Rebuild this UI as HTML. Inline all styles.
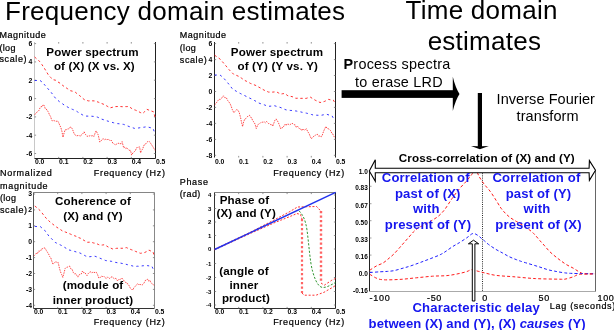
<!DOCTYPE html>
<html><head><meta charset="utf-8"><style>
html,body{margin:0;padding:0;background:#fff;width:614px;height:330px;overflow:hidden}
svg{display:block;will-change:transform}
text{font-family:"Liberation Sans",sans-serif}
</style></head><body>
<svg width="614" height="330" viewBox="0 0 614 330">
<rect width="614" height="330" fill="#fff"/>
<text x="5.0" y="20" font-size="26" font-weight="normal" font-style="normal" fill="#000" text-anchor="start" letter-spacing="0.25" >Frequency domain estimates</text>
<text x="481.6" y="18.6" font-size="26" font-weight="normal" font-style="normal" fill="#000" text-anchor="middle" letter-spacing="0.25" >Time domain</text>
<text x="484.4" y="50.1" font-size="26" font-weight="normal" font-style="normal" fill="#000" text-anchor="middle" letter-spacing="0.25" >estimates</text>
<line x1="34.5" y1="42" x2="34.5" y2="158.5" stroke="#c8c8c8" stroke-width="1"/>
<line x1="34.5" y1="158.5" x2="155.5" y2="158.5" stroke="#222" stroke-width="1"/>
<line x1="155.5" y1="42" x2="155.5" y2="158.5" stroke="#222" stroke-width="1"/>
<line x1="58.7" y1="42" x2="58.7" y2="43.6" stroke="#777" stroke-width="0.8"/>
<line x1="58.7" y1="158.5" x2="58.7" y2="156.9" stroke="#777" stroke-width="0.8"/>
<line x1="82.9" y1="42" x2="82.9" y2="43.6" stroke="#777" stroke-width="0.8"/>
<line x1="82.9" y1="158.5" x2="82.9" y2="156.9" stroke="#777" stroke-width="0.8"/>
<line x1="107.1" y1="42" x2="107.1" y2="43.6" stroke="#777" stroke-width="0.8"/>
<line x1="107.1" y1="158.5" x2="107.1" y2="156.9" stroke="#777" stroke-width="0.8"/>
<line x1="131.3" y1="42" x2="131.3" y2="43.6" stroke="#777" stroke-width="0.8"/>
<line x1="131.3" y1="158.5" x2="131.3" y2="156.9" stroke="#777" stroke-width="0.8"/>
<line x1="34.5" y1="43.6" x2="36.1" y2="43.6" stroke="#777" stroke-width="0.8"/>
<line x1="155.5" y1="43.6" x2="153.9" y2="43.6" stroke="#777" stroke-width="0.8"/>
<line x1="34.5" y1="61.9" x2="36.1" y2="61.9" stroke="#777" stroke-width="0.8"/>
<line x1="155.5" y1="61.9" x2="153.9" y2="61.9" stroke="#777" stroke-width="0.8"/>
<line x1="34.5" y1="80.2" x2="36.1" y2="80.2" stroke="#777" stroke-width="0.8"/>
<line x1="155.5" y1="80.2" x2="153.9" y2="80.2" stroke="#777" stroke-width="0.8"/>
<line x1="34.5" y1="98.6" x2="36.1" y2="98.6" stroke="#777" stroke-width="0.8"/>
<line x1="155.5" y1="98.6" x2="153.9" y2="98.6" stroke="#777" stroke-width="0.8"/>
<line x1="34.5" y1="116.9" x2="36.1" y2="116.9" stroke="#777" stroke-width="0.8"/>
<line x1="155.5" y1="116.9" x2="153.9" y2="116.9" stroke="#777" stroke-width="0.8"/>
<line x1="34.5" y1="135.2" x2="36.1" y2="135.2" stroke="#777" stroke-width="0.8"/>
<line x1="155.5" y1="135.2" x2="153.9" y2="135.2" stroke="#777" stroke-width="0.8"/>
<line x1="34.5" y1="153.5" x2="36.1" y2="153.5" stroke="#777" stroke-width="0.8"/>
<line x1="155.5" y1="153.5" x2="153.9" y2="153.5" stroke="#777" stroke-width="0.8"/>
<text x="-0.5" y="37.5" font-size="9" font-weight="normal" font-style="normal" fill="#000" text-anchor="start" letter-spacing="0.52" stroke="#000" stroke-width="0.22">Magnitude</text>
<text x="-0.5" y="51.2" font-size="9" font-weight="normal" font-style="normal" fill="#000" text-anchor="start" letter-spacing="0.3" stroke="#000" stroke-width="0.22">(log</text>
<text x="-0.5" y="62.2" font-size="9" font-weight="normal" font-style="normal" fill="#000" text-anchor="start" letter-spacing="0.6" stroke="#000" stroke-width="0.22">scale)</text>
<text x="32.3" y="46.0" font-size="6.8" font-weight="bold" font-style="normal" fill="#000" text-anchor="end" letter-spacing="0.0" >6</text>
<text x="32.3" y="64.3" font-size="6.8" font-weight="bold" font-style="normal" fill="#000" text-anchor="end" letter-spacing="0.0" >4</text>
<text x="32.3" y="82.60000000000001" font-size="6.8" font-weight="bold" font-style="normal" fill="#000" text-anchor="end" letter-spacing="0.0" >2</text>
<text x="32.3" y="100.9" font-size="6.8" font-weight="bold" font-style="normal" fill="#000" text-anchor="end" letter-spacing="0.0" >0</text>
<text x="32.3" y="119.2" font-size="6.8" font-weight="bold" font-style="normal" fill="#000" text-anchor="end" letter-spacing="0.0" >-2</text>
<text x="32.3" y="137.5" font-size="6.8" font-weight="bold" font-style="normal" fill="#000" text-anchor="end" letter-spacing="0.0" >-4</text>
<text x="32.3" y="155.9" font-size="6.8" font-weight="bold" font-style="normal" fill="#000" text-anchor="end" letter-spacing="0.0" >-6</text>
<text x="34.9" y="163.8" font-size="6.8" font-weight="bold" font-style="normal" fill="#000" text-anchor="start" letter-spacing="0.0" >0.0</text>
<text x="59.1" y="163.8" font-size="6.8" font-weight="bold" font-style="normal" fill="#000" text-anchor="start" letter-spacing="0.0" >0.1</text>
<text x="83.30000000000001" y="163.8" font-size="6.8" font-weight="bold" font-style="normal" fill="#000" text-anchor="start" letter-spacing="0.0" >0.2</text>
<text x="107.5" y="163.8" font-size="6.8" font-weight="bold" font-style="normal" fill="#000" text-anchor="start" letter-spacing="0.0" >0.3</text>
<text x="131.70000000000002" y="163.8" font-size="6.8" font-weight="bold" font-style="normal" fill="#000" text-anchor="start" letter-spacing="0.0" >0.4</text>
<text x="155.9" y="163.8" font-size="6.8" font-weight="bold" font-style="normal" fill="#000" text-anchor="start" letter-spacing="0.0" >0.5</text>
<text x="165.6" y="175.5" font-size="9" font-weight="normal" font-style="normal" fill="#000" text-anchor="end" letter-spacing="0.7" stroke="#000" stroke-width="0.22">Frequency (Hz)</text>
<text x="92.5" y="56.1" font-size="11.6" font-weight="bold" font-style="normal" fill="#000" text-anchor="middle" letter-spacing="0.15" >Power spectrum</text>
<text x="94.4" y="69.7" font-size="11.6" font-weight="bold" font-style="normal" fill="#000" text-anchor="middle" letter-spacing="0.15" >of (X) (X vs. X)</text>
<polyline points="34.7,57.0 37.2,59.4 39.8,61.6 42.0,64.7 44.2,68.0 46.4,71.6 48.6,75.3 50.8,77.6 52.9,79.6 55.8,80.3 58.0,82.0 60.2,83.3 62.4,85.2 64.6,86.8 67.5,88.7 70.4,90.7 72.9,91.3 75.4,92.3 77.6,94.1 79.7,95.7 81.9,97.5 84.1,99.5 86.3,100.3 88.5,100.9 91.4,100.8 94.3,100.9 96.5,101.5 98.7,102.3 101.6,103.5 104.5,104.6 107.2,106.2 110.0,107.9 112.8,107.2 115.5,106.6 117.8,106.5 120.0,106.5 122.3,106.7 124.6,106.6 126.8,106.6 129.1,106.5 131.1,108.1 133.2,109.4 135.6,110.2 138.0,111.3 140.3,112.5 142.7,113.5 144.8,111.5 146.8,109.3 148.9,110.1 150.9,110.8 153.7,111.9 154.9,116.8" fill="none" stroke="#ff1a1a" stroke-width="0.9" stroke-dasharray="2.4,2.6" />
<polyline points="34.7,80.5 37.2,80.5 39.8,80.3 42.7,82.5 44.9,85.2 47.1,87.7 49.3,90.3 51.5,92.8 53.6,95.7 55.8,98.6 59.4,101.6 62.0,103.4 64.5,105.3 67.0,106.7 69.6,108.2 72.5,109.4 75.4,110.5 77.6,111.9 79.7,113.3 82.2,114.7 84.8,116.1 87.0,116.1 89.2,116.2 91.4,116.2 94.3,116.5 97.2,117.0 99.4,118.0 101.6,119.1 103.8,119.8 105.9,120.5 108.7,121.4 111.4,122.2 113.4,122.7 115.5,123.3 117.5,123.6 119.5,123.8 121.6,124.1 123.6,124.4 125.7,125.1 127.7,126.0 129.8,126.8 132.2,127.6 134.6,128.4 136.9,128.2 139.1,127.9 141.4,127.4 144.1,127.2 146.8,126.7 148.9,127.3 150.9,127.8 153.0,128.4 154.9,133.2" fill="none" stroke="#2020ff" stroke-width="0.9" stroke-dasharray="2.2,3.2" />
<polyline points="34.6,114.5 35.7,113.8 36.8,112.2 37.9,111.5 39.0,110.3 40.0,107.9 41.1,106.5 42.2,106.9 43.3,104.5 44.3,105.8 45.3,108.7 46.3,109.0 47.3,111.0 48.3,111.7 49.4,114.7 50.6,116.5 51.7,120.3 52.8,120.9 53.9,120.4 55.0,121.1 56.2,121.4 57.4,120.7 58.6,122.5 59.7,125.1 60.8,127.4 61.9,131.3 63.0,137.3 64.1,132.9 65.2,129.7 66.3,129.7 67.4,129.0 68.5,129.0 69.6,127.6 71.0,127.0 72.5,129.2 73.9,133.1 75.3,135.2 76.8,135.8 77.9,135.5 79.0,135.3 80.1,136.4 81.2,135.0 82.7,133.9 84.1,131.8 85.5,134.4 87.0,136.4 88.1,135.9 89.2,136.0 90.3,135.6 91.4,135.9 92.7,135.7 94.0,136.5 95.0,133.4 96.1,130.8 97.2,133.0 98.2,134.9 99.8,142.1 101.2,140.7 102.5,139.0 103.6,138.9 104.6,139.7 105.7,139.2 106.8,140.0 107.8,138.9 108.8,139.7 109.9,140.5 111.5,140.5 112.8,143.2 114.1,143.8 115.3,145.0 116.6,144.1 117.8,143.4 118.9,143.3 119.9,143.8 121.0,143.6 122.1,141.6 123.7,148.0 124.8,147.0 125.8,148.5 126.9,147.8 127.9,149.1 129.2,150.3 130.5,150.4 131.6,155.1 132.9,152.9 134.3,151.7 135.4,150.8 136.4,147.9 137.5,147.5 138.5,147.2 139.6,146.9 140.6,152.9 141.7,150.1 142.7,149.1 143.8,145.3 145.1,144.8 146.4,142.8 147.8,141.5 149.1,141.3 150.4,143.0 151.7,144.9 153.3,147.4 155.0,150.4" fill="none" stroke="#ff1a1a" stroke-width="0.8" stroke-dasharray="1.5,1.0" />
<line x1="214.5" y1="42" x2="214.5" y2="157.5" stroke="#222" stroke-width="1"/>
<line x1="335.5" y1="42" x2="335.5" y2="157.5" stroke="#222" stroke-width="1"/>
<line x1="238.7" y1="42" x2="238.7" y2="43.6" stroke="#777" stroke-width="0.8"/>
<line x1="238.7" y1="157.5" x2="238.7" y2="155.9" stroke="#777" stroke-width="0.8"/>
<line x1="262.9" y1="42" x2="262.9" y2="43.6" stroke="#777" stroke-width="0.8"/>
<line x1="262.9" y1="157.5" x2="262.9" y2="155.9" stroke="#777" stroke-width="0.8"/>
<line x1="287.1" y1="42" x2="287.1" y2="43.6" stroke="#777" stroke-width="0.8"/>
<line x1="287.1" y1="157.5" x2="287.1" y2="155.9" stroke="#777" stroke-width="0.8"/>
<line x1="311.3" y1="42" x2="311.3" y2="43.6" stroke="#777" stroke-width="0.8"/>
<line x1="311.3" y1="157.5" x2="311.3" y2="155.9" stroke="#777" stroke-width="0.8"/>
<line x1="214.5" y1="43.6" x2="216.1" y2="43.6" stroke="#777" stroke-width="0.8"/>
<line x1="335.5" y1="43.6" x2="333.9" y2="43.6" stroke="#777" stroke-width="0.8"/>
<line x1="214.5" y1="59.6" x2="216.1" y2="59.6" stroke="#777" stroke-width="0.8"/>
<line x1="335.5" y1="59.6" x2="333.9" y2="59.6" stroke="#777" stroke-width="0.8"/>
<line x1="214.5" y1="75.5" x2="216.1" y2="75.5" stroke="#777" stroke-width="0.8"/>
<line x1="335.5" y1="75.5" x2="333.9" y2="75.5" stroke="#777" stroke-width="0.8"/>
<line x1="214.5" y1="91.5" x2="216.1" y2="91.5" stroke="#777" stroke-width="0.8"/>
<line x1="335.5" y1="91.5" x2="333.9" y2="91.5" stroke="#777" stroke-width="0.8"/>
<line x1="214.5" y1="107.4" x2="216.1" y2="107.4" stroke="#777" stroke-width="0.8"/>
<line x1="335.5" y1="107.4" x2="333.9" y2="107.4" stroke="#777" stroke-width="0.8"/>
<line x1="214.5" y1="123.4" x2="216.1" y2="123.4" stroke="#777" stroke-width="0.8"/>
<line x1="335.5" y1="123.4" x2="333.9" y2="123.4" stroke="#777" stroke-width="0.8"/>
<line x1="214.5" y1="139.4" x2="216.1" y2="139.4" stroke="#777" stroke-width="0.8"/>
<line x1="335.5" y1="139.4" x2="333.9" y2="139.4" stroke="#777" stroke-width="0.8"/>
<line x1="214.5" y1="155.3" x2="216.1" y2="155.3" stroke="#777" stroke-width="0.8"/>
<line x1="335.5" y1="155.3" x2="333.9" y2="155.3" stroke="#777" stroke-width="0.8"/>
<text x="179.8" y="37.9" font-size="9" font-weight="normal" font-style="normal" fill="#000" text-anchor="start" letter-spacing="0.52" stroke="#000" stroke-width="0.22">Magnitude</text>
<text x="179.8" y="51.2" font-size="9" font-weight="normal" font-style="normal" fill="#000" text-anchor="start" letter-spacing="0.3" stroke="#000" stroke-width="0.22">(log</text>
<text x="179.8" y="62.6" font-size="9" font-weight="normal" font-style="normal" fill="#000" text-anchor="start" letter-spacing="0.6" stroke="#000" stroke-width="0.22">scale)</text>
<text x="212.3" y="46.0" font-size="6.8" font-weight="bold" font-style="normal" fill="#000" text-anchor="end" letter-spacing="0.0" >6</text>
<text x="212.3" y="61.96" font-size="6.8" font-weight="bold" font-style="normal" fill="#000" text-anchor="end" letter-spacing="0.0" >4</text>
<text x="212.3" y="77.92000000000002" font-size="6.8" font-weight="bold" font-style="normal" fill="#000" text-anchor="end" letter-spacing="0.0" >2</text>
<text x="212.3" y="93.88000000000001" font-size="6.8" font-weight="bold" font-style="normal" fill="#000" text-anchor="end" letter-spacing="0.0" >0</text>
<text x="212.3" y="109.84" font-size="6.8" font-weight="bold" font-style="normal" fill="#000" text-anchor="end" letter-spacing="0.0" >-2</text>
<text x="212.3" y="125.80000000000001" font-size="6.8" font-weight="bold" font-style="normal" fill="#000" text-anchor="end" letter-spacing="0.0" >-4</text>
<text x="212.3" y="141.76000000000002" font-size="6.8" font-weight="bold" font-style="normal" fill="#000" text-anchor="end" letter-spacing="0.0" >-6</text>
<text x="212.3" y="157.72" font-size="6.8" font-weight="bold" font-style="normal" fill="#000" text-anchor="end" letter-spacing="0.0" >-8</text>
<text x="214.9" y="163.8" font-size="6.8" font-weight="bold" font-style="normal" fill="#000" text-anchor="start" letter-spacing="0.0" >0.0</text>
<text x="239.1" y="163.8" font-size="6.8" font-weight="bold" font-style="normal" fill="#000" text-anchor="start" letter-spacing="0.0" >0.1</text>
<text x="263.29999999999995" y="163.8" font-size="6.8" font-weight="bold" font-style="normal" fill="#000" text-anchor="start" letter-spacing="0.0" >0.2</text>
<text x="287.5" y="163.8" font-size="6.8" font-weight="bold" font-style="normal" fill="#000" text-anchor="start" letter-spacing="0.0" >0.3</text>
<text x="311.7" y="163.8" font-size="6.8" font-weight="bold" font-style="normal" fill="#000" text-anchor="start" letter-spacing="0.0" >0.4</text>
<text x="335.9" y="163.8" font-size="6.8" font-weight="bold" font-style="normal" fill="#000" text-anchor="start" letter-spacing="0.0" >0.5</text>
<text x="345" y="175.5" font-size="9" font-weight="normal" font-style="normal" fill="#000" text-anchor="end" letter-spacing="0.7" stroke="#000" stroke-width="0.22">Frequency (Hz)</text>
<text x="277" y="56.1" font-size="11.6" font-weight="bold" font-style="normal" fill="#000" text-anchor="middle" letter-spacing="0.15" >Power spectrum</text>
<text x="277.8" y="69.8" font-size="11.6" font-weight="bold" font-style="normal" fill="#000" text-anchor="middle" letter-spacing="0.15" >of (Y) (Y vs. Y)</text>
<polyline points="214.6,55.2 217.3,57.1 220.1,59.1 222.3,61.6 224.6,64.3 226.9,67.0 229.2,69.8 231.4,72.0 233.7,74.3 236.3,75.3 239.0,76.5 241.7,78.3 244.3,80.2 246.3,81.2 248.4,82.2 250.4,83.4 253.4,84.5 256.4,85.7 258.9,87.2 261.5,88.6 264.0,90.1 266.3,91.1 268.6,92.1 270.7,92.1 272.7,92.1 274.8,91.9 276.8,92.0 278.8,93.1 280.8,94.1 282.8,93.7 284.8,93.5 287.9,95.8 290.0,96.3 292.1,96.6 295.8,98.3 297.9,98.2 299.9,98.4 302.0,98.3 304.0,98.4 306.1,98.4 308.2,97.7 310.3,97.1 312.8,98.7 315.2,100.2 317.6,101.3 320.0,102.5 322.4,102.1 324.8,101.3 328.5,99.4 330.9,99.9 333.3,100.1 335.2,103.2" fill="none" stroke="#ff1a1a" stroke-width="0.9" stroke-dasharray="2.4,2.6" />
<polyline points="214.6,75.0 217.3,75.0 220.1,75.1 223.1,77.4 225.3,80.0 227.6,82.7 229.9,85.5 232.2,88.6 234.2,90.0 236.2,91.2 238.2,92.5 240.2,93.4 242.3,94.5 244.3,95.4 246.8,96.7 249.4,98.0 251.9,99.1 254.3,100.4 256.6,101.7 259.0,103.1 261.8,104.1 264.5,104.9 266.6,105.8 268.6,106.3 271.3,106.1 274.0,105.6 276.0,106.2 278.0,106.9 280.0,107.3 282.0,108.1 284.1,109.1 286.1,109.9 288.1,110.0 290.1,110.4 292.1,110.5 294.1,110.8 296.2,111.0 298.2,111.5 300.2,111.8 302.2,112.3 304.2,112.7 306.6,113.2 309.1,113.8 311.5,114.5 313.9,115.2 316.3,115.2 318.8,115.3 321.2,115.3 323.9,114.7 326.7,114.3 329.4,115.1 332.1,115.9 334.5,120.2" fill="none" stroke="#2020ff" stroke-width="0.9" stroke-dasharray="2.2,3.2" />
<polyline points="214.6,104.9 215.7,103.9 216.8,102.2 217.9,100.7 219.1,99.2 220.2,99.5 221.3,98.1 222.4,97.6 223.5,95.8 224.9,97.7 226.3,97.7 227.7,100.5 229.0,102.1 230.0,103.5 231.0,105.8 232.4,109.8 233.8,112.6 235.2,111.3 236.5,109.7 237.8,110.0 239.2,112.4 240.6,117.7 241.6,122.7 242.6,126.5 243.6,121.9 244.7,119.2 245.9,118.5 247.1,117.1 248.3,115.8 249.5,115.3 250.5,117.2 251.5,117.6 252.8,121.0 254.2,122.3 255.2,124.6 256.3,128.5 257.6,125.2 259.0,123.6 260.1,123.3 261.2,122.2 262.3,122.2 263.4,122.1 264.5,122.0 265.5,122.9 266.6,121.5 267.6,122.6 268.6,123.6 269.6,123.5 270.6,124.6 271.7,124.2 272.7,126.3 273.8,123.3 275.0,120.1 276.1,118.9 277.2,120.5 278.4,122.6 279.5,125.5 280.8,128.9 281.9,127.7 282.9,127.6 284.0,125.9 285.0,124.3 286.1,125.6 287.1,123.8 288.3,124.2 289.6,125.0 290.8,124.1 292.0,123.2 293.1,124.0 294.2,124.7 295.2,124.9 296.3,127.3 297.4,126.1 298.5,127.5 299.5,128.8 300.6,128.8 301.7,130.7 302.9,128.9 304.1,130.1 305.3,129.6 306.5,128.8 307.7,131.7 308.9,133.2 310.2,136.4 311.4,138.8 312.6,137.3 313.8,136.3 315.0,135.8 316.2,134.3 317.4,134.3 318.6,136.2 319.9,135.9 321.1,137.0 322.3,135.1 323.5,131.5 324.7,128.8 325.9,126.5 327.1,128.4 328.4,128.8 329.6,129.5 330.8,130.8 331.9,133.6 332.9,134.1 333.9,136.2 335.0,138.2" fill="none" stroke="#ff1a1a" stroke-width="0.8" stroke-dasharray="1.5,1.0" />
<line x1="33.5" y1="192.5" x2="154.5" y2="192.5" stroke="#777" stroke-width="0.9"/>
<line x1="33.5" y1="192.5" x2="33.5" y2="308.5" stroke="#555" stroke-width="1"/>
<line x1="33.5" y1="308.5" x2="154.5" y2="308.5" stroke="#333" stroke-width="1"/>
<line x1="154.5" y1="192.5" x2="154.5" y2="308.5" stroke="#888" stroke-width="1"/>
<line x1="57.7" y1="192.5" x2="57.7" y2="194.1" stroke="#777" stroke-width="0.8"/>
<line x1="57.7" y1="308.5" x2="57.7" y2="306.9" stroke="#777" stroke-width="0.8"/>
<line x1="81.9" y1="192.5" x2="81.9" y2="194.1" stroke="#777" stroke-width="0.8"/>
<line x1="81.9" y1="308.5" x2="81.9" y2="306.9" stroke="#777" stroke-width="0.8"/>
<line x1="106.1" y1="192.5" x2="106.1" y2="194.1" stroke="#777" stroke-width="0.8"/>
<line x1="106.1" y1="308.5" x2="106.1" y2="306.9" stroke="#777" stroke-width="0.8"/>
<line x1="130.3" y1="192.5" x2="130.3" y2="194.1" stroke="#777" stroke-width="0.8"/>
<line x1="130.3" y1="308.5" x2="130.3" y2="306.9" stroke="#777" stroke-width="0.8"/>
<line x1="33.5" y1="194.0" x2="35.1" y2="194.0" stroke="#777" stroke-width="0.8"/>
<line x1="154.5" y1="194.0" x2="152.9" y2="194.0" stroke="#777" stroke-width="0.8"/>
<line x1="33.5" y1="209.9" x2="35.1" y2="209.9" stroke="#777" stroke-width="0.8"/>
<line x1="154.5" y1="209.9" x2="152.9" y2="209.9" stroke="#777" stroke-width="0.8"/>
<line x1="33.5" y1="225.8" x2="35.1" y2="225.8" stroke="#777" stroke-width="0.8"/>
<line x1="154.5" y1="225.8" x2="152.9" y2="225.8" stroke="#777" stroke-width="0.8"/>
<line x1="33.5" y1="241.7" x2="35.1" y2="241.7" stroke="#777" stroke-width="0.8"/>
<line x1="154.5" y1="241.7" x2="152.9" y2="241.7" stroke="#777" stroke-width="0.8"/>
<line x1="33.5" y1="257.6" x2="35.1" y2="257.6" stroke="#777" stroke-width="0.8"/>
<line x1="154.5" y1="257.6" x2="152.9" y2="257.6" stroke="#777" stroke-width="0.8"/>
<line x1="33.5" y1="273.5" x2="35.1" y2="273.5" stroke="#777" stroke-width="0.8"/>
<line x1="154.5" y1="273.5" x2="152.9" y2="273.5" stroke="#777" stroke-width="0.8"/>
<line x1="33.5" y1="289.4" x2="35.1" y2="289.4" stroke="#777" stroke-width="0.8"/>
<line x1="154.5" y1="289.4" x2="152.9" y2="289.4" stroke="#777" stroke-width="0.8"/>
<line x1="33.5" y1="305.3" x2="35.1" y2="305.3" stroke="#777" stroke-width="0.8"/>
<line x1="154.5" y1="305.3" x2="152.9" y2="305.3" stroke="#777" stroke-width="0.8"/>
<text x="0" y="175.8" font-size="9" font-weight="normal" font-style="normal" fill="#000" text-anchor="start" letter-spacing="0.7" stroke="#000" stroke-width="0.22">Normalized</text>
<text x="0" y="189.1" font-size="9" font-weight="normal" font-style="normal" fill="#000" text-anchor="start" letter-spacing="0.7" stroke="#000" stroke-width="0.22">magnitude</text>
<text x="0" y="200.8" font-size="9" font-weight="normal" font-style="normal" fill="#000" text-anchor="start" letter-spacing="0.3" stroke="#000" stroke-width="0.22">(log</text>
<text x="0" y="212.8" font-size="9" font-weight="normal" font-style="normal" fill="#000" text-anchor="start" letter-spacing="0.6" stroke="#000" stroke-width="0.22">scale)</text>
<text x="32" y="196.4" font-size="6.8" font-weight="bold" font-style="normal" fill="#000" text-anchor="end" letter-spacing="0.0" >3</text>
<text x="32" y="212.3" font-size="6.8" font-weight="bold" font-style="normal" fill="#000" text-anchor="end" letter-spacing="0.0" >2</text>
<text x="32" y="228.20000000000002" font-size="6.8" font-weight="bold" font-style="normal" fill="#000" text-anchor="end" letter-spacing="0.0" >1</text>
<text x="32" y="244.1" font-size="6.8" font-weight="bold" font-style="normal" fill="#000" text-anchor="end" letter-spacing="0.0" >0</text>
<text x="32" y="260.0" font-size="6.8" font-weight="bold" font-style="normal" fill="#000" text-anchor="end" letter-spacing="0.0" >-1</text>
<text x="32" y="275.9" font-size="6.8" font-weight="bold" font-style="normal" fill="#000" text-anchor="end" letter-spacing="0.0" >-2</text>
<text x="32" y="291.79999999999995" font-size="6.8" font-weight="bold" font-style="normal" fill="#000" text-anchor="end" letter-spacing="0.0" >-3</text>
<text x="32" y="307.7" font-size="6.8" font-weight="bold" font-style="normal" fill="#000" text-anchor="end" letter-spacing="0.0" >-4</text>
<text x="33.9" y="314.2" font-size="6.8" font-weight="bold" font-style="normal" fill="#000" text-anchor="start" letter-spacing="0.0" >0.0</text>
<text x="58.1" y="314.2" font-size="6.8" font-weight="bold" font-style="normal" fill="#000" text-anchor="start" letter-spacing="0.0" >0.1</text>
<text x="82.30000000000001" y="314.2" font-size="6.8" font-weight="bold" font-style="normal" fill="#000" text-anchor="start" letter-spacing="0.0" >0.2</text>
<text x="106.5" y="314.2" font-size="6.8" font-weight="bold" font-style="normal" fill="#000" text-anchor="start" letter-spacing="0.0" >0.3</text>
<text x="130.70000000000002" y="314.2" font-size="6.8" font-weight="bold" font-style="normal" fill="#000" text-anchor="start" letter-spacing="0.0" >0.4</text>
<text x="154.9" y="314.2" font-size="6.8" font-weight="bold" font-style="normal" fill="#000" text-anchor="start" letter-spacing="0.0" >0.5</text>
<text x="165.5" y="325" font-size="9" font-weight="normal" font-style="normal" fill="#000" text-anchor="end" letter-spacing="0.7" stroke="#000" stroke-width="0.22">Frequency (Hz)</text>
<text x="93" y="204.6" font-size="11.6" font-weight="bold" font-style="normal" fill="#000" text-anchor="middle" letter-spacing="0.15" >Coherence of</text>
<text x="93" y="219.5" font-size="11.6" font-weight="bold" font-style="normal" fill="#000" text-anchor="middle" letter-spacing="0.15" >(X) and (Y)</text>
<text x="93" y="289.4" font-size="11.6" font-weight="bold" font-style="normal" fill="#000" text-anchor="middle" letter-spacing="0.15" >(module of</text>
<text x="93" y="303.7" font-size="11.6" font-weight="bold" font-style="normal" fill="#000" text-anchor="middle" letter-spacing="0.15" >inner product)</text>
<polyline points="34.8,206.0 37.5,208.2 40.1,210.6 42.1,213.0 44.1,215.7 46.1,218.2 48.4,220.3 50.7,222.7 52.7,224.1 54.7,225.7 56.7,227.2 58.7,228.4 60.8,229.8 62.8,231.2 65.3,232.0 67.9,233.0 70.4,234.1 72.4,235.0 74.4,235.7 76.4,236.4 78.4,237.5 80.5,238.3 82.5,239.5 84.8,240.8 87.0,242.3 89.1,242.2 91.2,242.2 93.7,243.0 96.1,243.4 98.2,244.4 100.3,245.3 102.4,245.0 104.6,244.7 108.2,247.0 110.3,247.9 112.5,248.9 114.6,248.7 116.7,248.3 119.5,248.2 122.2,248.3 124.3,248.0 126.4,247.6 128.9,248.7 131.3,249.7 133.4,250.4 135.5,251.4 137.9,252.3 140.4,253.3 142.5,253.0 144.6,252.5 146.8,251.5 148.9,250.1 151.0,251.1 153.1,252.1 154.0,255.0" fill="none" stroke="#ff1a1a" stroke-width="0.9" stroke-dasharray="2.4,2.6" />
<polyline points="34.8,226.4 37.5,226.6 40.1,226.4 42.4,228.4 44.6,230.2 46.9,233.3 49.2,236.5 51.2,238.3 53.2,240.4 55.2,242.4 57.7,243.7 60.3,244.9 62.8,246.1 64.8,247.5 66.8,248.7 68.8,249.9 70.8,250.4 72.9,251.0 74.9,251.5 77.0,252.2 79.0,252.6 81.2,253.6 83.3,254.7 85.4,255.9 87.6,256.8 90.0,256.7 92.5,256.4 94.9,256.2 97.3,257.1 99.7,258.1 101.7,258.9 103.8,259.7 105.8,260.6 107.8,260.8 109.8,261.1 111.8,261.4 114.5,262.2 117.3,262.7 120.0,263.0 122.8,263.6 125.2,264.1 127.6,264.7 129.6,265.3 131.7,265.7 133.7,266.3 135.7,266.4 137.8,266.2 139.8,266.4 141.8,265.9 143.8,265.7 145.8,265.3 147.8,265.7 149.9,266.0 151.9,266.3 154.0,270.8" fill="none" stroke="#2020ff" stroke-width="0.9" stroke-dasharray="2.2,3.2" />
<polyline points="34.0,255.8 35.1,254.7 36.2,253.3 37.4,253.8 38.5,251.1 39.6,251.2 40.6,251.1 41.7,248.6 42.7,248.6 43.8,247.8 45.1,248.2 46.3,250.4 47.6,252.5 48.6,254.0 49.7,256.6 50.7,257.5 51.8,261.1 52.9,264.2 54.0,263.1 55.2,262.0 56.2,261.9 57.2,262.7 58.2,262.5 59.4,268.1 60.5,271.8 61.6,274.4 62.8,277.4 63.9,273.4 65.1,268.6 66.2,267.4 67.3,267.2 68.5,266.5 69.6,266.1 70.9,268.9 72.1,269.4 73.4,272.6 74.5,273.9 75.7,273.6 76.8,275.5 77.9,277.1 79.1,274.8 80.2,274.3 81.3,273.9 82.5,271.0 83.6,272.7 84.8,272.5 85.9,274.2 87.0,275.6 88.3,273.5 89.5,272.3 90.8,271.8 91.9,272.9 92.9,272.1 94.0,272.5 95.2,272.4 96.4,272.3 97.6,274.7 98.8,278.0 100.0,277.8 101.3,276.1 102.5,276.5 103.7,276.1 104.9,277.4 106.1,278.5 107.3,276.9 108.5,278.1 109.7,278.4 110.9,277.1 112.2,276.9 113.4,278.0 114.6,279.0 115.8,278.2 117.0,280.4 118.2,280.6 119.4,278.9 120.6,279.3 121.8,277.9 123.0,279.5 124.3,281.1 125.5,282.0 126.7,283.7 127.9,283.8 129.1,285.7 130.3,288.2 131.5,289.0 132.7,290.2 133.9,287.7 135.2,286.4 136.4,285.1 137.6,283.6 138.8,284.8 140.0,284.3 141.2,284.9 142.4,284.8 143.5,283.8 144.6,282.0 145.6,280.1 146.7,279.7 147.8,279.2 148.8,281.2 149.8,280.3 150.9,282.4 151.9,283.6 152.9,284.2 153.9,285.4" fill="none" stroke="#ff1a1a" stroke-width="0.8" stroke-dasharray="1.5,1.0" />
<line x1="214.5" y1="192.5" x2="335.5" y2="192.5" stroke="#777" stroke-width="0.9"/>
<line x1="214.5" y1="192.5" x2="214.5" y2="308.5" stroke="#333" stroke-width="1"/>
<line x1="214.5" y1="308.5" x2="335.5" y2="308.5" stroke="#333" stroke-width="1"/>
<line x1="335.5" y1="192.5" x2="335.5" y2="308.5" stroke="#222" stroke-width="1"/>
<line x1="238.7" y1="192.5" x2="238.7" y2="194.1" stroke="#777" stroke-width="0.8"/>
<line x1="238.7" y1="308.5" x2="238.7" y2="306.9" stroke="#777" stroke-width="0.8"/>
<line x1="262.9" y1="192.5" x2="262.9" y2="194.1" stroke="#777" stroke-width="0.8"/>
<line x1="262.9" y1="308.5" x2="262.9" y2="306.9" stroke="#777" stroke-width="0.8"/>
<line x1="287.1" y1="192.5" x2="287.1" y2="194.1" stroke="#777" stroke-width="0.8"/>
<line x1="287.1" y1="308.5" x2="287.1" y2="306.9" stroke="#777" stroke-width="0.8"/>
<line x1="311.3" y1="192.5" x2="311.3" y2="194.1" stroke="#777" stroke-width="0.8"/>
<line x1="311.3" y1="308.5" x2="311.3" y2="306.9" stroke="#777" stroke-width="0.8"/>
<line x1="214.5" y1="195.0" x2="216.1" y2="195.0" stroke="#777" stroke-width="0.8"/>
<line x1="335.5" y1="195.0" x2="333.9" y2="195.0" stroke="#777" stroke-width="0.8"/>
<line x1="214.5" y1="208.5" x2="216.1" y2="208.5" stroke="#777" stroke-width="0.8"/>
<line x1="335.5" y1="208.5" x2="333.9" y2="208.5" stroke="#777" stroke-width="0.8"/>
<line x1="214.5" y1="222.0" x2="216.1" y2="222.0" stroke="#777" stroke-width="0.8"/>
<line x1="335.5" y1="222.0" x2="333.9" y2="222.0" stroke="#777" stroke-width="0.8"/>
<line x1="214.5" y1="235.5" x2="216.1" y2="235.5" stroke="#777" stroke-width="0.8"/>
<line x1="335.5" y1="235.5" x2="333.9" y2="235.5" stroke="#777" stroke-width="0.8"/>
<line x1="214.5" y1="249.0" x2="216.1" y2="249.0" stroke="#777" stroke-width="0.8"/>
<line x1="335.5" y1="249.0" x2="333.9" y2="249.0" stroke="#777" stroke-width="0.8"/>
<line x1="214.5" y1="263.5" x2="216.1" y2="263.5" stroke="#777" stroke-width="0.8"/>
<line x1="335.5" y1="263.5" x2="333.9" y2="263.5" stroke="#777" stroke-width="0.8"/>
<line x1="214.5" y1="277.5" x2="216.1" y2="277.5" stroke="#777" stroke-width="0.8"/>
<line x1="335.5" y1="277.5" x2="333.9" y2="277.5" stroke="#777" stroke-width="0.8"/>
<line x1="214.5" y1="291.5" x2="216.1" y2="291.5" stroke="#777" stroke-width="0.8"/>
<line x1="335.5" y1="291.5" x2="333.9" y2="291.5" stroke="#777" stroke-width="0.8"/>
<line x1="214.5" y1="305.0" x2="216.1" y2="305.0" stroke="#777" stroke-width="0.8"/>
<line x1="335.5" y1="305.0" x2="333.9" y2="305.0" stroke="#777" stroke-width="0.8"/>
<text x="179.7" y="184.5" font-size="9" font-weight="normal" font-style="normal" fill="#000" text-anchor="start" letter-spacing="0.7" stroke="#000" stroke-width="0.22">Phase</text>
<text x="179.7" y="197.2" font-size="9" font-weight="normal" font-style="normal" fill="#000" text-anchor="start" letter-spacing="0.4" stroke="#000" stroke-width="0.22">(rad)</text>
<text x="211.3" y="197.4" font-size="6" font-weight="bold" font-style="normal" fill="#000" text-anchor="end" letter-spacing="0.0" >4</text>
<text x="211.3" y="210.9" font-size="6" font-weight="bold" font-style="normal" fill="#000" text-anchor="end" letter-spacing="0.0" >3</text>
<text x="211.3" y="224.4" font-size="6" font-weight="bold" font-style="normal" fill="#000" text-anchor="end" letter-spacing="0.0" >2</text>
<text x="211.3" y="237.9" font-size="6" font-weight="bold" font-style="normal" fill="#000" text-anchor="end" letter-spacing="0.0" >1</text>
<text x="211.3" y="251.4" font-size="6" font-weight="bold" font-style="normal" fill="#000" text-anchor="end" letter-spacing="0.0" >0</text>
<text x="211.3" y="265.9" font-size="6" font-weight="bold" font-style="normal" fill="#000" text-anchor="end" letter-spacing="0.0" >-1</text>
<text x="211.3" y="279.9" font-size="6" font-weight="bold" font-style="normal" fill="#000" text-anchor="end" letter-spacing="0.0" >-2</text>
<text x="211.3" y="293.9" font-size="6" font-weight="bold" font-style="normal" fill="#000" text-anchor="end" letter-spacing="0.0" >-3</text>
<text x="211.3" y="307.4" font-size="6" font-weight="bold" font-style="normal" fill="#000" text-anchor="end" letter-spacing="0.0" >-4</text>
<text x="214.9" y="314.2" font-size="6.8" font-weight="bold" font-style="normal" fill="#000" text-anchor="start" letter-spacing="0.0" >0.0</text>
<text x="239.1" y="314.2" font-size="6.8" font-weight="bold" font-style="normal" fill="#000" text-anchor="start" letter-spacing="0.0" >0.1</text>
<text x="263.29999999999995" y="314.2" font-size="6.8" font-weight="bold" font-style="normal" fill="#000" text-anchor="start" letter-spacing="0.0" >0.2</text>
<text x="287.5" y="314.2" font-size="6.8" font-weight="bold" font-style="normal" fill="#000" text-anchor="start" letter-spacing="0.0" >0.3</text>
<text x="311.7" y="314.2" font-size="6.8" font-weight="bold" font-style="normal" fill="#000" text-anchor="start" letter-spacing="0.0" >0.4</text>
<text x="335.9" y="314.2" font-size="6.8" font-weight="bold" font-style="normal" fill="#000" text-anchor="start" letter-spacing="0.0" >0.5</text>
<text x="345" y="325" font-size="9" font-weight="normal" font-style="normal" fill="#000" text-anchor="end" letter-spacing="0.7" stroke="#000" stroke-width="0.22">Frequency (Hz)</text>
<text x="219.7" y="203.5" font-size="11.6" font-weight="bold" font-style="normal" fill="#000" text-anchor="start" letter-spacing="0.15" >Phase of</text>
<text x="216.4" y="217.4" font-size="11.6" font-weight="bold" font-style="normal" fill="#000" text-anchor="start" letter-spacing="0.15" >(X) and (Y)</text>
<text x="244" y="275.1" font-size="11.6" font-weight="bold" font-style="normal" fill="#000" text-anchor="middle" letter-spacing="0.15" >(angle of</text>
<text x="244" y="289" font-size="11.6" font-weight="bold" font-style="normal" fill="#000" text-anchor="middle" letter-spacing="0.15" >inner</text>
<text x="246" y="302.3" font-size="11.6" font-weight="bold" font-style="normal" fill="#000" text-anchor="middle" letter-spacing="0.15" >product)</text>
<polyline points="214.6,249.8 250.0,233.6 275.0,222.5 290.0,216.5 297.0,213.5 300.5,214.5 302.0,219.0" fill="none" stroke="#ff1a1a" stroke-width="0.9" stroke-dasharray="2,1.6" />
<polyline points="214.6,249.2 250.0,232.4 275.0,219.5 290.0,211.5 297.5,207.0 316.6,206.5 320.3,210.5" fill="none" stroke="#ff1a1a" stroke-width="0.9" stroke-dasharray="2,1.6" />
<line x1="302" y1="219" x2="302" y2="293" stroke="#ff6464" stroke-width="2.2" stroke-dasharray="2.2,2.3"/>
<line x1="321" y1="211" x2="321" y2="283" stroke="#ff6464" stroke-width="2.4" stroke-dasharray="2.2,2.3"/>
<polyline points="302.0,293.0 304.0,295.2 316.0,295.2 324.0,292.3 333.2,287.0 335.5,285.5" fill="none" stroke="#ff1a1a" stroke-width="0.9" stroke-dasharray="2,1.8" />
<polyline points="321.0,283.0 324.3,285.2 331.8,280.2 335.5,278.5" fill="none" stroke="#ff1a1a" stroke-width="0.9" stroke-dasharray="2,1.8" />
<path d="M299.1,210.9 C303,215 305.5,220 307,230 C309,245 310,262 312.5,271 C314.5,278 317,285 321,287 C325,288.5 329,286 335.5,282.5" fill="none" stroke="#1a8a1a" stroke-width="0.9" stroke-dasharray="2.2,1.6"/>
<line x1="214.6" y1="249.5" x2="335.6" y2="192.3" stroke="#2233ee" stroke-width="1.4"/>
<text x="343.5" y="68.6" font-size="14.4" font-weight="normal" font-style="normal" fill="#000" text-anchor="start" letter-spacing="0.25" ><tspan font-weight="bold">P</tspan>rocess spectra</text>
<text x="355.1" y="87" font-size="14.4" font-weight="normal" font-style="normal" fill="#000" text-anchor="start" letter-spacing="0.25" >to erase LRD</text>
<rect x="341.6" y="90.2" width="112" height="7.7" fill="#000"/>
<path d="M452.8,76.8 Q455.5,88 459.5,93.9 Q455.5,100 452.8,110.9 Z" fill="#000"/>
<text x="545.8" y="104.4" font-size="14.5" font-weight="normal" font-style="normal" fill="#000" text-anchor="middle" letter-spacing="0.06" >Inverse Fourier</text>
<text x="547.6" y="120.6" font-size="14.5" font-weight="normal" font-style="normal" fill="#000" text-anchor="middle" letter-spacing="0.1" >transform</text>
<polygon points="477.8,93.1 482,93.1 482,146.3 488.8,146 479.9,149.2 471,146 477.8,146.3" fill="#000"/>
<line x1="369.5" y1="171" x2="369.5" y2="291.5" stroke="#222" stroke-width="1"/>
<line x1="369.5" y1="291.5" x2="595.5" y2="291.5" stroke="#aaa" stroke-width="1"/>
<line x1="595.5" y1="171" x2="595.5" y2="291.5" stroke="#555" stroke-width="0.9"/>
<text x="367.8" y="173.9" font-size="6.5" font-weight="bold" font-style="normal" fill="#000" text-anchor="end" letter-spacing="0.0" >1.0</text>
<text x="367.8" y="190.3" font-size="6.5" font-weight="bold" font-style="normal" fill="#000" text-anchor="end" letter-spacing="0.0" >0.83</text>
<text x="367.8" y="207.70000000000002" font-size="6.5" font-weight="bold" font-style="normal" fill="#000" text-anchor="end" letter-spacing="0.0" >0.67</text>
<text x="367.8" y="224.70000000000002" font-size="6.5" font-weight="bold" font-style="normal" fill="#000" text-anchor="end" letter-spacing="0.0" >0.50</text>
<text x="367.8" y="242.0" font-size="6.5" font-weight="bold" font-style="normal" fill="#000" text-anchor="end" letter-spacing="0.0" >0.33</text>
<text x="367.8" y="259.09999999999997" font-size="6.5" font-weight="bold" font-style="normal" fill="#000" text-anchor="end" letter-spacing="0.0" >0.16</text>
<text x="367.8" y="276.09999999999997" font-size="6.5" font-weight="bold" font-style="normal" fill="#000" text-anchor="end" letter-spacing="0.0" >0.0</text>
<text x="367.8" y="293.09999999999997" font-size="6.5" font-weight="bold" font-style="normal" fill="#000" text-anchor="end" letter-spacing="0.0" >-0.16</text>
<line x1="369.5" y1="186.3" x2="371.5" y2="186.3" stroke="#777" stroke-width="0.7"/>
<line x1="369.5" y1="203.70000000000002" x2="371.5" y2="203.70000000000002" stroke="#777" stroke-width="0.7"/>
<line x1="369.5" y1="220.70000000000002" x2="371.5" y2="220.70000000000002" stroke="#777" stroke-width="0.7"/>
<line x1="369.5" y1="238.0" x2="371.5" y2="238.0" stroke="#777" stroke-width="0.7"/>
<line x1="369.5" y1="255.1" x2="371.5" y2="255.1" stroke="#777" stroke-width="0.7"/>
<line x1="369.5" y1="272.09999999999997" x2="371.5" y2="272.09999999999997" stroke="#777" stroke-width="0.7"/>
<line x1="482.5" y1="171" x2="482.5" y2="291.5" stroke="#111" stroke-width="0.9" stroke-dasharray="1,1.2"/>
<text x="380" y="300.5" font-size="9" font-weight="normal" font-style="normal" fill="#000" text-anchor="middle" letter-spacing="0.7" stroke="#000" stroke-width="0.22">-100</text>
<text x="434.5" y="300.5" font-size="9" font-weight="normal" font-style="normal" fill="#000" text-anchor="middle" letter-spacing="0.7" stroke="#000" stroke-width="0.22">-50</text>
<text x="485" y="300.5" font-size="9" font-weight="normal" font-style="normal" fill="#000" text-anchor="middle" letter-spacing="0.7" stroke="#000" stroke-width="0.22">0</text>
<text x="544.2" y="300.5" font-size="9" font-weight="normal" font-style="normal" fill="#000" text-anchor="middle" letter-spacing="0.7" stroke="#000" stroke-width="0.22">50</text>
<text x="606" y="300.5" font-size="9" font-weight="normal" font-style="normal" fill="#000" text-anchor="middle" letter-spacing="0.7" stroke="#000" stroke-width="0.22">100</text>
<text x="616" y="309.3" font-size="9" font-weight="normal" font-style="normal" fill="#000" text-anchor="end" letter-spacing="0.7" stroke="#000" stroke-width="0.22">Lag (seconds)</text>
<path d="M369.8,270.2 C370.9,269.5 374.3,267.1 376.5,265.9 C378.7,264.7 381.1,264.2 383.2,262.9 C385.3,261.6 387.4,259.6 389.2,258.1 C391.0,256.6 392.4,255.5 394.1,253.8 C395.8,252.1 397.9,249.6 399.5,247.8 C401.1,246.0 402.3,244.6 403.8,242.9 C405.3,241.2 406.9,239.4 408.5,237.6 C410.1,235.8 411.7,233.7 413.3,232.1 C414.9,230.5 416.2,229.2 418.2,227.9 C420.2,226.6 423.1,225.5 425.5,224.2 C427.9,222.9 430.5,221.4 432.7,220.0 C434.9,218.6 436.8,217.6 438.8,215.8 C440.8,214.0 442.6,212.3 444.8,209.4 C447.0,206.5 449.7,201.9 452.1,198.5 C454.5,195.1 457.1,191.6 459.4,188.8 C461.7,186.0 464.2,183.7 466.1,181.5 C468.0,179.3 469.4,177.4 471.0,175.5 C472.6,173.6 474.1,169.8 475.5,170.0 C476.9,170.2 477.9,174.6 479.4,177.0 C480.8,179.4 482.4,181.8 484.2,184.2 C486.0,186.6 488.3,188.8 490.3,191.5 C492.3,194.2 494.4,197.7 496.2,200.5 C498.0,203.3 499.5,206.1 501.1,208.3 C502.7,210.5 504.3,212.2 505.9,213.8 C507.5,215.4 509.0,216.7 510.8,218.0 C512.6,219.3 514.8,220.5 516.8,221.7 C518.8,222.9 520.5,223.7 522.9,225.3 C525.3,226.9 529.3,229.7 531.4,231.4 C533.5,233.1 534.2,234.1 535.6,235.6 C537.0,237.1 538.3,238.8 539.8,240.5 C541.3,242.2 543.1,244.1 544.7,245.9 C546.3,247.7 547.8,249.7 549.5,251.4 C551.2,253.1 553.2,254.7 555.0,256.2 C556.8,257.7 558.6,259.1 560.5,260.5 C562.4,261.9 564.4,263.4 566.6,264.7 C568.8,266.0 571.4,267.1 573.5,268.3 C575.6,269.5 577.6,271.1 579.4,272.0 C581.2,272.9 581.6,273.5 584.2,273.8 C586.8,274.1 593.4,273.8 595.2,273.8" fill="none" stroke="#ff1a1a" stroke-width="1.0" stroke-dasharray="3,2.2"/>
<path d="M369.8,272.5 C371.5,272.4 377.1,272.0 380.0,271.8 C382.9,271.6 384.9,271.6 387.4,271.4 C389.8,271.2 392.1,271.1 394.7,270.5 C397.3,269.9 400.7,268.8 403.2,268.1 C405.7,267.4 407.3,267.0 409.8,266.2 C412.3,265.4 415.8,264.1 418.3,263.2 C420.8,262.3 422.6,261.6 425.0,260.7 C427.4,259.8 430.4,258.7 432.9,257.7 C435.4,256.7 438.2,255.7 440.2,254.7 C442.2,253.7 443.0,253.2 445.0,251.9 C447.0,250.6 449.9,248.4 452.3,246.8 C454.7,245.2 457.1,244.1 459.5,242.6 C461.9,241.1 464.6,239.3 466.8,237.8 C469.0,236.3 471.1,233.9 472.9,233.5 C474.7,233.1 476.3,234.5 477.7,235.3 C479.1,236.1 480.3,237.5 481.4,238.4 C482.5,239.3 483.2,239.8 484.4,240.8 C485.6,241.8 486.7,243.1 488.6,244.5 C490.5,245.9 493.6,248.0 495.9,249.4 C498.2,250.8 500.4,251.8 502.6,253.0 C504.8,254.2 506.9,255.6 509.2,256.7 C511.5,257.8 514.1,258.8 516.5,259.7 C518.9,260.6 520.2,261.1 523.8,262.2 C527.4,263.3 534.1,265.3 538.0,266.5 C541.9,267.7 544.4,268.7 547.1,269.5 C549.8,270.3 551.8,270.6 554.4,271.1 C557.0,271.6 559.9,272.2 562.9,272.6 C565.9,273.0 566.7,273.2 572.1,273.4 C577.5,273.6 591.4,273.7 595.2,273.8" fill="none" stroke="#2020ff" stroke-width="1.0" stroke-dasharray="3,2.2"/>
<path d="M369.8,274.3 C371.0,275.0 374.6,277.5 377.0,278.4 C379.4,279.3 380.2,279.6 384.0,279.8 C387.8,280.0 394.6,279.7 400.0,279.4 C405.4,279.1 410.9,278.3 416.3,277.8 C421.7,277.3 427.2,276.6 432.6,276.2 C438.0,275.8 443.5,276.1 448.9,275.4 C454.3,274.7 461.3,273.1 465.1,272.1 C468.9,271.2 469.5,269.8 471.7,269.7 C473.9,269.6 476.0,270.8 478.2,271.3 C480.4,271.8 481.7,272.2 484.7,272.9 C487.7,273.6 491.4,274.8 496.1,275.4 C500.8,276.0 506.3,276.2 512.9,276.7 C519.5,277.2 527.8,278.2 535.6,278.6 C543.5,279.0 555.1,279.1 560.0,279.2 C564.9,279.3 562.6,279.6 564.8,279.2 C567.0,278.8 570.9,277.6 573.3,276.8 C575.7,276.0 575.8,274.9 579.4,274.4 C583.0,273.9 592.6,273.9 595.2,273.8" fill="none" stroke="#ff1a1a" stroke-width="1.0" stroke-dasharray="3,2.2"/>
<polygon points="369.3,171 375.3,159.8 375.3,168.3 589.1,168.3 589.4,160.6 595.5,170.2 589.4,180.3 589.1,172.8 375.3,172.8 375.3,181.3" fill="#fff" stroke="#000" stroke-width="1.1" stroke-linejoin="miter"/>
<text x="486.8" y="162.2" font-size="11.7" font-weight="bold" font-style="normal" fill="#000" text-anchor="middle" letter-spacing="0.08" >Cross-correlation of (X) and (Y)</text>
<text x="425.8" y="182.2" font-size="13.1" font-weight="bold" font-style="normal" fill="#1515ee" text-anchor="middle" letter-spacing="0.15" >Correlation of</text>
<text x="427.8" y="197.6" font-size="13.1" font-weight="bold" font-style="normal" fill="#1515ee" text-anchor="middle" letter-spacing="0.15" >past of (X)</text>
<text x="426.3" y="213.0" font-size="13.1" font-weight="bold" font-style="normal" fill="#1515ee" text-anchor="middle" letter-spacing="0.15" >with</text>
<text x="428.0" y="229.1" font-size="13.1" font-weight="bold" font-style="normal" fill="#1515ee" text-anchor="middle" letter-spacing="0.15" >present of (Y)</text>
<text x="536.5" y="182.2" font-size="13.1" font-weight="bold" font-style="normal" fill="#1515ee" text-anchor="middle" letter-spacing="0.15" >Correlation of</text>
<text x="538.5" y="197.6" font-size="13.1" font-weight="bold" font-style="normal" fill="#1515ee" text-anchor="middle" letter-spacing="0.15" >past of (Y)</text>
<text x="537" y="213.0" font-size="13.1" font-weight="bold" font-style="normal" fill="#1515ee" text-anchor="middle" letter-spacing="0.15" >with</text>
<text x="538.5" y="229.1" font-size="13.1" font-weight="bold" font-style="normal" fill="#1515ee" text-anchor="middle" letter-spacing="0.15" >present of (X)</text>
<polygon points="473.5,240.2 478.7,243.8 474.9,243.8 474.9,301 472.3,301 472.3,243.8 468.4,243.8" fill="#fff" stroke="#000" stroke-width="1.0" stroke-linejoin="miter"/>
<text x="476.2" y="312.4" font-size="13.1" font-weight="bold" font-style="normal" fill="#1515ee" text-anchor="middle" letter-spacing="0.15" >Characteristic delay</text>
<text x="368.6" y="328.1" font-size="13.1" font-weight="bold" font-style="normal" fill="#1515ee" text-anchor="start" letter-spacing="0.05" >between (X) and (Y), (X) <tspan font-style="italic">causes</tspan> (Y)</text>
</svg>
</body></html>
